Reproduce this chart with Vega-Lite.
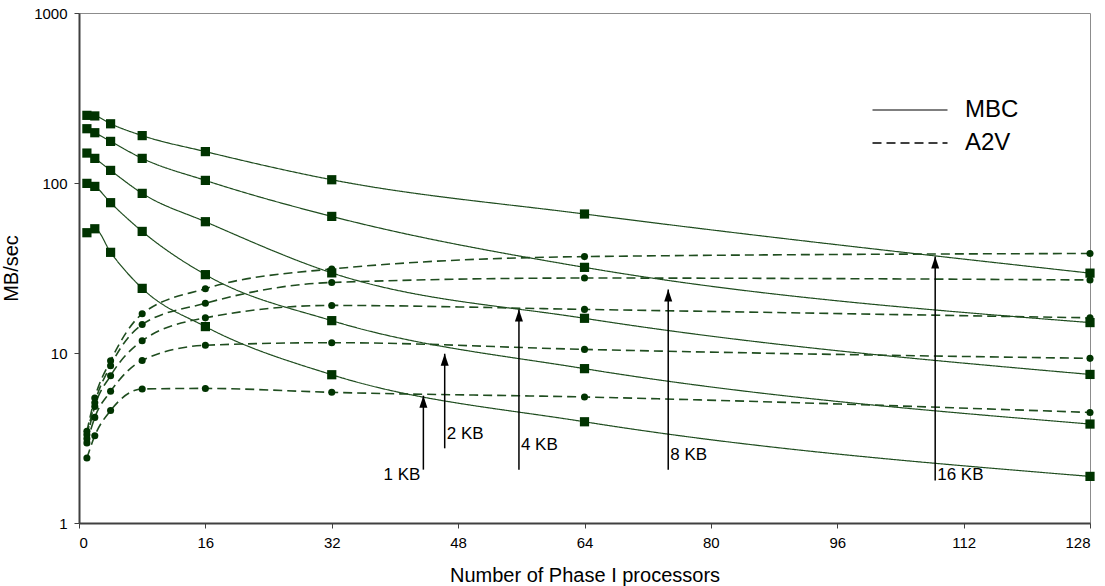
{
  "$schema": "https://vega.github.io/schema/vega-lite/v6.json",
  "width": 1011,
  "height": 510,
  "autosize": {"type": "none"},
  "padding": {"left": 79, "top": 13, "right": 15, "bottom": 63},
  "background": "white",
  "config": {
    "font": "Liberation Sans",
    "view": {"stroke": "#8c8c8c", "strokeWidth": 1},
    "axis": {
      "grid": false,
      "domainColor": "#404040",
      "domainWidth": 2,
      "tickColor": "#404040",
      "tickWidth": 1,
      "tickSize": 5,
      "labelColor": "#000000",
      "labelFontSize": 15,
      "titleColor": "#000000",
      "titleFontSize": 20,
      "titleFontWeight": "normal"
    },
    "legend": {"labelFontSize": 24, "labelColor": "#000000"}
  },
  "datasets": {
    "perf": [
      {"s": "MBC", "kb": 16, "x": 1, "y": 250}, {"s": "MBC", "kb": 16, "x": 2, "y": 248}, {"s": "MBC", "kb": 16, "x": 4, "y": 223}, {"s": "MBC", "kb": 16, "x": 8, "y": 190}, {"s": "MBC", "kb": 16, "x": 16, "y": 153}, {"s": "MBC", "kb": 16, "x": 32, "y": 104.5}, {"s": "MBC", "kb": 16, "x": 64, "y": 65.7}, {"s": "MBC", "kb": 16, "x": 128, "y": 29.5},
      {"s": "MBC", "kb": 8, "x": 1, "y": 208.6}, {"s": "MBC", "kb": 8, "x": 2, "y": 197.6}, {"s": "MBC", "kb": 8, "x": 4, "y": 175.7}, {"s": "MBC", "kb": 8, "x": 8, "y": 139.6}, {"s": "MBC", "kb": 8, "x": 16, "y": 103.6}, {"s": "MBC", "kb": 8, "x": 32, "y": 63.6}, {"s": "MBC", "kb": 8, "x": 64, "y": 31.9}, {"s": "MBC", "kb": 8, "x": 128, "y": 15.1},
      {"s": "MBC", "kb": 4, "x": 1, "y": 150}, {"s": "MBC", "kb": 4, "x": 2, "y": 139.6}, {"s": "MBC", "kb": 4, "x": 4, "y": 118.6}, {"s": "MBC", "kb": 4, "x": 8, "y": 86.9}, {"s": "MBC", "kb": 4, "x": 16, "y": 59.2}, {"s": "MBC", "kb": 4, "x": 32, "y": 29.6}, {"s": "MBC", "kb": 4, "x": 64, "y": 16.0}, {"s": "MBC", "kb": 4, "x": 128, "y": 7.48},
      {"s": "MBC", "kb": 2, "x": 1, "y": 99.5}, {"s": "MBC", "kb": 2, "x": 2, "y": 95.5}, {"s": "MBC", "kb": 2, "x": 4, "y": 76.6}, {"s": "MBC", "kb": 2, "x": 8, "y": 51.9}, {"s": "MBC", "kb": 2, "x": 16, "y": 28.9}, {"s": "MBC", "kb": 2, "x": 32, "y": 15.5}, {"s": "MBC", "kb": 2, "x": 64, "y": 8.09}, {"s": "MBC", "kb": 2, "x": 128, "y": 3.82},
      {"s": "MBC", "kb": 1, "x": 1, "y": 51}, {"s": "MBC", "kb": 1, "x": 2, "y": 53.8}, {"s": "MBC", "kb": 1, "x": 4, "y": 39.1}, {"s": "MBC", "kb": 1, "x": 8, "y": 24.0}, {"s": "MBC", "kb": 1, "x": 16, "y": 14.3}, {"s": "MBC", "kb": 1, "x": 32, "y": 7.45}, {"s": "MBC", "kb": 1, "x": 64, "y": 3.94}, {"s": "MBC", "kb": 1, "x": 128, "y": 1.88},
      {"s": "A2V", "kb": 16, "x": 1, "y": 3.46}, {"s": "A2V", "kb": 16, "x": 2, "y": 5.44}, {"s": "A2V", "kb": 16, "x": 4, "y": 9.0}, {"s": "A2V", "kb": 16, "x": 8, "y": 17.0}, {"s": "A2V", "kb": 16, "x": 16, "y": 23.9}, {"s": "A2V", "kb": 16, "x": 32, "y": 31.2}, {"s": "A2V", "kb": 16, "x": 64, "y": 36.9}, {"s": "A2V", "kb": 16, "x": 128, "y": 38.5},
      {"s": "A2V", "kb": 8, "x": 1, "y": 3.3}, {"s": "A2V", "kb": 8, "x": 2, "y": 5.1}, {"s": "A2V", "kb": 8, "x": 4, "y": 8.42}, {"s": "A2V", "kb": 8, "x": 8, "y": 14.7}, {"s": "A2V", "kb": 8, "x": 16, "y": 19.6}, {"s": "A2V", "kb": 8, "x": 32, "y": 26.0}, {"s": "A2V", "kb": 8, "x": 64, "y": 27.6}, {"s": "A2V", "kb": 8, "x": 128, "y": 26.9},
      {"s": "A2V", "kb": 4, "x": 1, "y": 3.13}, {"s": "A2V", "kb": 4, "x": 2, "y": 4.85}, {"s": "A2V", "kb": 4, "x": 4, "y": 7.35}, {"s": "A2V", "kb": 4, "x": 8, "y": 11.8}, {"s": "A2V", "kb": 4, "x": 16, "y": 16.1}, {"s": "A2V", "kb": 4, "x": 32, "y": 19.05}, {"s": "A2V", "kb": 4, "x": 64, "y": 18.05}, {"s": "A2V", "kb": 4, "x": 128, "y": 16.1},
      {"s": "A2V", "kb": 2, "x": 1, "y": 2.96}, {"s": "A2V", "kb": 2, "x": 2, "y": 4.18}, {"s": "A2V", "kb": 2, "x": 4, "y": 5.95}, {"s": "A2V", "kb": 2, "x": 8, "y": 9.04}, {"s": "A2V", "kb": 2, "x": 16, "y": 11.1}, {"s": "A2V", "kb": 2, "x": 32, "y": 11.5}, {"s": "A2V", "kb": 2, "x": 64, "y": 10.5}, {"s": "A2V", "kb": 2, "x": 128, "y": 9.3},
      {"s": "A2V", "kb": 1, "x": 1, "y": 2.41}, {"s": "A2V", "kb": 1, "x": 2, "y": 3.26}, {"s": "A2V", "kb": 1, "x": 4, "y": 4.59}, {"s": "A2V", "kb": 1, "x": 8, "y": 6.14}, {"s": "A2V", "kb": 1, "x": 16, "y": 6.19}, {"s": "A2V", "kb": 1, "x": 32, "y": 5.87}, {"s": "A2V", "kb": 1, "x": 64, "y": 5.51}, {"s": "A2V", "kb": 1, "x": 128, "y": 4.47}
    ],
    "arrows": [
      {"label": "1 KB", "x": 43.6, "lo": 2.06, "hi": 5.61, "ly": 1.92},
      {"label": "2 KB", "x": 46.3, "lo": 2.75, "hi": 9.9, "ly": 3.35},
      {"label": "4 KB", "x": 55.7, "lo": 2.06, "hi": 18.0, "ly": 2.89},
      {"label": "8 KB", "x": 74.6, "lo": 2.06, "hi": 23.6, "ly": 2.52},
      {"label": "16 KB", "x": 108.4, "lo": 1.78, "hi": 37.0, "ly": 1.905}
    ]
  },
  "layer": [
    {
      "data": {"name": "perf"},
      "mark": {"type": "line", "interpolate": "monotone", "color": "#1f4d1f"},
      "encoding": {
        "x": {"field": "x", "type": "quantitative", "scale": {"domain": [0, 128], "nice": false, "zero": false},
              "axis": {"values": [0, 16, 32, 48, 64, 80, 96, 112, 128], "title": "Number of Phase I processors", "labelPadding": 7, "titlePadding": 15}},
        "y": {"field": "y", "type": "quantitative", "scale": {"type": "log", "domain": [1, 1000], "nice": false},
              "axis": {"values": [1, 10, 100, 1000], "format": "d", "title": "MB/sec", "labelPadding": 7, "titlePadding": 12}},
        "detail": {"field": "kb"},
        "strokeDash": {"field": "s", "type": "nominal", "scale": {"domain": ["MBC", "A2V"], "range": [[1, 0], [9, 5]]},
                       "legend": {"title": null, "orient": "none", "legendX": 819, "legendY": 85, "symbolType": "M-5,0H5", "symbolSize": 225, "symbolStrokeColor": "#000000", "symbolStrokeWidth": 1.3, "symbolFillColor": "transparent", "labelOffset": 43, "rowPadding": 9}},
        "strokeWidth": {"field": "s", "type": "nominal", "scale": {"domain": ["MBC", "A2V"], "range": [1.2, 1.6]}, "legend": null}
      }
    },
    {
      "data": {"name": "perf"},
      "transform": [{"filter": "datum.s == 'MBC'"}],
      "mark": {"type": "point", "filled": true, "color": "#003300", "opacity": 1, "shape": "square", "size": 85},
      "encoding": {
        "x": {"field": "x", "type": "quantitative", "title": "Number of Phase I processors"},
        "y": {"field": "y", "type": "quantitative", "title": "MB/sec"}
      }
    },
    {
      "data": {"name": "perf"},
      "transform": [{"filter": "datum.s == 'A2V'"}],
      "mark": {"type": "point", "filled": true, "color": "#003300", "opacity": 1, "shape": "circle", "size": 50},
      "encoding": {
        "x": {"field": "x", "type": "quantitative", "title": "Number of Phase I processors"},
        "y": {"field": "y", "type": "quantitative", "title": "MB/sec"}
      }
    },
    {
      "data": {"name": "arrows"},
      "mark": {"type": "rule", "color": "#000000", "strokeWidth": 1.5},
      "encoding": {
        "x": {"field": "x", "type": "quantitative", "title": "Number of Phase I processors"},
        "y": {"field": "hi", "type": "quantitative", "title": "MB/sec"},
        "y2": {"field": "lo"}
      }
    },
    {
      "data": {"name": "arrows"},
      "mark": {"type": "point", "filled": true, "color": "#000000", "opacity": 1, "shape": "M0,0L0.667,2L-0.667,2Z", "size": 144},
      "encoding": {
        "x": {"field": "x", "type": "quantitative", "title": "Number of Phase I processors"},
        "y": {"field": "hi", "type": "quantitative", "title": "MB/sec"}
      }
    },
    {
      "data": {"name": "arrows"},
      "transform": [{"filter": "datum.label != '1 KB'"}],
      "mark": {"type": "text", "align": "left", "baseline": "middle", "dx": 2, "fontSize": 17, "color": "#000000"},
      "encoding": {
        "x": {"field": "x", "type": "quantitative", "title": "Number of Phase I processors"},
        "y": {"field": "ly", "type": "quantitative", "title": "MB/sec"},
        "text": {"field": "label"}
      }
    },
    {
      "data": {"name": "arrows"},
      "transform": [{"filter": "datum.label == '1 KB'"}],
      "mark": {"type": "text", "align": "right", "baseline": "middle", "dx": -3, "fontSize": 17, "color": "#000000"},
      "encoding": {
        "x": {"field": "x", "type": "quantitative", "title": "Number of Phase I processors"},
        "y": {"field": "ly", "type": "quantitative", "title": "MB/sec"},
        "text": {"field": "label"}
      }
    }
  ]
}
